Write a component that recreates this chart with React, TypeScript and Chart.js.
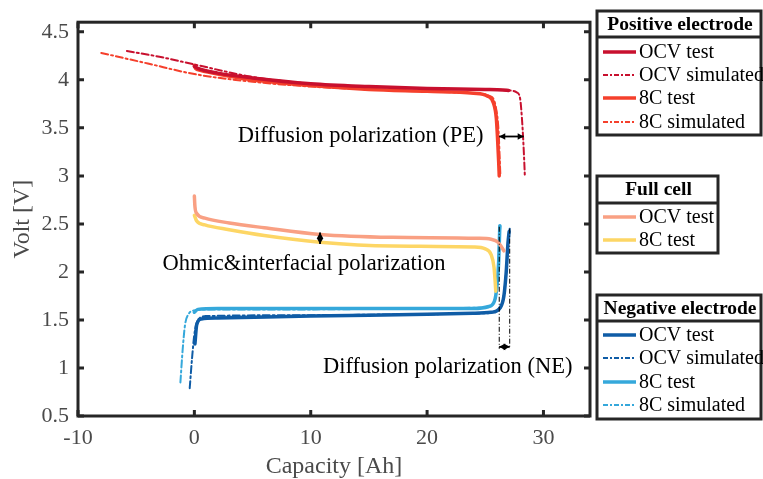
import React, { useEffect, useRef } from "react";
import { Chart, registerables } from "chart.js";

Chart.register(...registerables);

// ---------- axis ticks ----------
const xTicks = [-10, 0, 10, 20, 30];
const yTicks = [0.5, 1, 1.5, 2, 2.5, 3, 3.5, 4, 4.5];

// ---------- Positive electrode ----------
const peOcvTestCap = [0, 0.3, 2, 5, 10, 15, 20, 25, 26.5, 27];
const peOcvTestV = [4.14, 4.12, 4.07, 4.02, 3.96, 3.93, 3.91, 3.9, 3.895, 3.89];

const peOcvSimCap = [-5.8, -3, 0, 5, 10, 15, 20, 25, 27, 27.7, 28.0, 28.15, 28.25, 28.35, 28.4];
const peOcvSimV = [4.3, 4.24, 4.16, 4.03, 3.96, 3.93, 3.91, 3.9, 3.89, 3.87, 3.8, 3.6, 3.4, 3.15, 3.0];

const pe8cTestCap = [0, 0.1, 0.5, 2, 5, 10, 15, 20, 24, 25.2, 25.7, 25.95, 26.05, 26.15, 26.2];
const pe8cTestV = [4.15, 4.12, 4.1, 4.06, 4.0, 3.94, 3.9, 3.88, 3.86, 3.83, 3.76, 3.6, 3.4, 3.15, 3.0];

const pe8cSimCap = [-8, -4, 0, 5, 10, 15, 20, 24, 25.4, 25.9, 26.15, 26.25, 26.3];
const pe8cSimV = [4.28, 4.17, 4.06, 3.98, 3.93, 3.9, 3.88, 3.86, 3.83, 3.72, 3.45, 3.15, 3.0];

// ---------- Full cell ----------
const fcOcvTestCap = [0, 0.05, 0.2, 0.9, 3, 6, 10.8, 17, 24.3, 25.5, 26.1, 26.6];
const fcOcvTestV = [2.79, 2.68, 2.61, 2.56, 2.51, 2.46, 2.39, 2.36, 2.35, 2.34, 2.31, 2.22];

const fc8cTestCap = [0, 0.2, 0.9, 3, 6, 10.8, 17, 24, 25, 25.5, 25.75, 25.85, 25.9];
const fc8cTestV = [2.59, 2.53, 2.49, 2.44, 2.38, 2.31, 2.27, 2.26, 2.24, 2.18, 2.05, 1.9, 1.8];

// ---------- Negative electrode ----------
const neOcvTestCap = [0.05, 0.2, 0.6, 2, 10, 20, 24, 25.5, 26.3, 26.6, 26.8, 26.95, 27.05];
const neOcvTestV = [1.25, 1.45, 1.51, 1.52, 1.54, 1.56, 1.57, 1.58, 1.63, 1.75, 2.0, 2.3, 2.42];

const neOcvSimCap = [-0.4, -0.2, 0, 0.3, 1, 10, 20, 25, 26, 26.5, 26.8, 27.0, 27.1];
const neOcvSimV = [0.79, 1.1, 1.35, 1.5, 1.54, 1.55, 1.56, 1.57, 1.6, 1.7, 2.0, 2.35, 2.45];

const ne8cTestCap = [0, 0.3, 2, 10, 20, 24, 25.3, 25.8, 26.0, 26.15, 26.25];
const ne8cTestV = [1.58, 1.61, 1.62, 1.62, 1.62, 1.62, 1.64, 1.7, 1.85, 2.1, 2.48];

const ne8cSimCap = [-1.2, -1.0, -0.8, -0.5, 0, 1, 10, 20, 25, 25.8, 26.1, 26.25, 26.3];
const ne8cSimV = [0.85, 1.2, 1.45, 1.56, 1.6, 1.61, 1.61, 1.62, 1.63, 1.7, 2.0, 2.4, 2.48];

// ---------- annotations (data coordinates) ----------
const annoTexts = [
  { text: "Diffusion polarization (PE)", x: 24.85, y: 3.41, align: "right" },
  { text: "Ohmic&interfacial polarization", x: -2.74, y: 2.08, align: "left" },
  { text: "Diffusion polarization (NE)", x: 11.05, y: 1.01, align: "left" },
];
const annoArrows = [
  { x1: 26.2, y1: 3.41, x2: 28.3, y2: 3.41 },
  { x1: 10.8, y1: 2.41, x2: 10.8, y2: 2.29 },
  { x1: 26.2, y1: 1.22, x2: 27.1, y2: 1.22 },
];
const annoVLines = [
  { x: 26.2, y1: 2.47, y2: 1.2 },
  { x: 27.1, y1: 2.45, y2: 1.2 },
];

const colPeOcv = "#c8102e";
const colPe8c = "#f5402c";
const colFcOcv = "#f9a083";
const colFc8c = "#fdd665";
const colNeOcv = "#0f5ca6";
const colNe8c = "#35a8db";

const SIM_DASH = [7, 3, 2, 3];

const series = [
  { label: "FC OCV test", cap: fcOcvTestCap, v: fcOcvTestV, color: colFcOcv, dashed: false },
  { label: "FC 8C test", cap: fc8cTestCap, v: fc8cTestV, color: colFc8c, dashed: false },
  { label: "NE OCV test", cap: neOcvTestCap, v: neOcvTestV, color: colNeOcv, dashed: false },
  { label: "NE OCV simulated", cap: neOcvSimCap, v: neOcvSimV, color: colNeOcv, dashed: true },
  { label: "NE 8C test", cap: ne8cTestCap, v: ne8cTestV, color: colNe8c, dashed: false },
  { label: "NE 8C simulated", cap: ne8cSimCap, v: ne8cSimV, color: colNe8c, dashed: true },
  { label: "PE OCV test", cap: peOcvTestCap, v: peOcvTestV, color: colPeOcv, dashed: false },
  { label: "PE OCV simulated", cap: peOcvSimCap, v: peOcvSimV, color: colPeOcv, dashed: true },
  { label: "PE 8C test", cap: pe8cTestCap, v: pe8cTestV, color: colPe8c, dashed: false },
  { label: "PE 8C simulated", cap: pe8cSimCap, v: pe8cSimV, color: colPe8c, dashed: true },
];

const legendGroups = [
  {
    title: "Positive electrode", left: 597, right: 761, top: 11, sep: 37, bottom: 135, titleY: 25,
    rows: [
      { label: "OCV test", color: colPeOcv, dashed: false, y: 52 },
      { label: "OCV simulated", color: colPeOcv, dashed: true, y: 75 },
      { label: "8C test", color: colPe8c, dashed: false, y: 98 },
      { label: "8C simulated", color: colPe8c, dashed: true, y: 122 },
    ],
  },
  {
    title: "Full cell", left: 597, right: 718, top: 176, sep: 203, bottom: 253, titleY: 190,
    rows: [
      { label: "OCV test", color: colFcOcv, dashed: false, y: 217 },
      { label: "8C test", color: colFc8c, dashed: false, y: 240 },
    ],
  },
  {
    title: "Negative electrode", left: 597, right: 761, top: 295, sep: 321, bottom: 419, titleY: 309,
    rows: [
      { label: "OCV test", color: colNeOcv, dashed: false, y: 335 },
      { label: "OCV simulated", color: colNeOcv, dashed: true, y: 358 },
      { label: "8C test", color: colNe8c, dashed: false, y: 382 },
      { label: "8C simulated", color: colNe8c, dashed: true, y: 405 },
    ],
  },
];

const FRAME = "#262626";
const SERIF = "'Liberation Serif', 'Times New Roman', serif";

function drawHead(ctx: CanvasRenderingContext2D, x: number, y: number, ang: number, s: number) {
  ctx.beginPath();
  ctx.moveTo(x, y);
  ctx.lineTo(x - s * Math.cos(ang) + (s * 0.55) * Math.sin(ang), y - s * Math.sin(ang) - (s * 0.55) * Math.cos(ang));
  ctx.lineTo(x - s * Math.cos(ang) - (s * 0.55) * Math.sin(ang), y - s * Math.sin(ang) + (s * 0.55) * Math.cos(ang));
  ctx.closePath();
  ctx.fill();
}

const decorPlugin = {
  id: "decor",
  afterDatasetsDraw(chart: any) {
    const ctx: CanvasRenderingContext2D = chart.ctx;
    const xs = chart.scales.x;
    const ys = chart.scales.y;
    const a = chart.chartArea;
    ctx.save();

    // annotation vertical dash-dot lines
    ctx.strokeStyle = "#000";
    ctx.lineWidth = 1;
    ctx.setLineDash([5, 2, 1, 2]);
    annoVLines.forEach((l) => {
      const px = xs.getPixelForValue(l.x);
      ctx.beginPath();
      ctx.moveTo(px, ys.getPixelForValue(l.y1));
      ctx.lineTo(px, ys.getPixelForValue(l.y2));
      ctx.stroke();
    });
    ctx.setLineDash([]);

    // arrows
    ctx.fillStyle = "#000";
    ctx.strokeStyle = "#000";
    ctx.lineWidth = 1.8;
    annoArrows.forEach((r) => {
      const x1 = xs.getPixelForValue(r.x1), y1 = ys.getPixelForValue(r.y1);
      const x2 = xs.getPixelForValue(r.x2), y2 = ys.getPixelForValue(r.y2);
      ctx.beginPath();
      ctx.moveTo(x1, y1);
      ctx.lineTo(x2, y2);
      ctx.stroke();
      const ang = Math.atan2(y2 - y1, x2 - x1);
      drawHead(ctx, x2, y2, ang, 6);
      drawHead(ctx, x1, y1, ang + Math.PI, 6);
    });

    // annotation texts
    ctx.font = `22.5px ${SERIF}`;
    ctx.fillStyle = "#000";
    ctx.textBaseline = "middle";
    annoTexts.forEach((t) => {
      ctx.textAlign = t.align as CanvasTextAlign;
      ctx.fillText(t.text, xs.getPixelForValue(t.x), ys.getPixelForValue(t.y));
    });

    // frame
    ctx.strokeStyle = FRAME;
    ctx.lineWidth = 3;
    ctx.strokeRect(a.left, a.top, a.right - a.left, a.bottom - a.top);
    // inward ticks
    const tl = 6;
    xTicks.forEach((v) => {
      const px = xs.getPixelForValue(v);
      ctx.beginPath();
      ctx.moveTo(px, a.bottom);
      ctx.lineTo(px, a.bottom - tl);
      ctx.moveTo(px, a.top);
      ctx.lineTo(px, a.top + tl);
      ctx.stroke();
    });
    yTicks.forEach((v) => {
      const py = ys.getPixelForValue(v);
      ctx.beginPath();
      ctx.moveTo(a.left, py);
      ctx.lineTo(a.left + tl, py);
      ctx.moveTo(a.right, py);
      ctx.lineTo(a.right - tl, py);
      ctx.stroke();
    });

    // legends
    legendGroups.forEach((g) => {
      ctx.fillStyle = "#fff";
      ctx.fillRect(g.left, g.top, g.right - g.left, g.bottom - g.top);
      ctx.strokeStyle = FRAME;
      ctx.lineWidth = 3;
      ctx.setLineDash([]);
      ctx.strokeRect(g.left, g.top, g.right - g.left, g.bottom - g.top);
      ctx.beginPath();
      ctx.moveTo(g.left, g.sep);
      ctx.lineTo(g.right, g.sep);
      ctx.stroke();
      ctx.fillStyle = "#000";
      ctx.font = `bold 19.5px ${SERIF}`;
      ctx.textAlign = "center";
      ctx.textBaseline = "middle";
      ctx.fillText(g.title, (g.left + g.right) / 2 + 1, g.titleY);
      g.rows.forEach((r) => {
        ctx.strokeStyle = r.color;
        ctx.lineWidth = r.dashed ? 2 : 3.5;
        ctx.setLineDash(r.dashed ? [5, 2, 2, 2] : []);
        ctx.beginPath();
        ctx.moveTo(603, r.y);
        ctx.lineTo(636, r.y);
        ctx.stroke();
        ctx.setLineDash([]);
        ctx.fillStyle = "#000";
        ctx.font = `20px ${SERIF}`;
        ctx.textAlign = "left";
        ctx.fillText(r.label, 639, r.y + 1);
      });
    });

    ctx.restore();
  },
};

export default function App() {
  const ref = useRef<HTMLCanvasElement>(null);
  useEffect(() => {
    if (!ref.current) return;
    const datasets = series.map((s) => ({
      label: s.label,
      data: s.cap.map((c, i) => ({ x: c, y: s.v[i] })),
      borderColor: s.color,
      backgroundColor: s.color,
      borderWidth: s.dashed ? 2 : 3.5,
      borderDash: s.dashed ? SIM_DASH : [],
      borderCapStyle: "round",
      borderJoinStyle: "round",
      pointRadius: 0,
      fill: false,
      cubicInterpolationMode: "monotone",
      showLine: true,
    }));
    const chart = new Chart(ref.current, {
      type: "scatter",
      data: { datasets },
      options: {
        animation: false,
        responsive: false,
        devicePixelRatio: 1,
        layout: { padding: { left: 0, right: 173, top: 12, bottom: 0 } },
        plugins: { legend: { display: false }, tooltip: { enabled: false } },
        scales: {
          x: {
            type: "linear",
            min: -10,
            max: 34,
            afterBuildTicks: (s: any) => {
              s.ticks = xTicks.map((value) => ({ value }));
            },
            afterFit: (s: any) => {
              s.height = 63;
            },
            grid: { display: false, drawTicks: false },
            border: { display: false },
            ticks: {
              padding: 9,
              color: "#4a4a4a",
              font: { family: SERIF, size: 22 },
              maxRotation: 0,
              callback: (v: any) => String(v),
            },
            title: {
              display: true,
              text: "Capacity [Ah]",
              color: "#4a4a4a",
              font: { family: SERIF, size: 24, lineHeight: 1 },
              padding: { top: 0, bottom: 0 },
            },
          },
          y: {
            type: "linear",
            min: 0.5,
            max: 4.6,
            afterBuildTicks: (s: any) => {
              s.ticks = yTicks.map((value) => ({ value }));
            },
            afterFit: (s: any) => {
              s.width = 78;
            },
            grid: { display: false, drawTicks: false },
            border: { display: false },
            ticks: {
              padding: 9,
              color: "#4a4a4a",
              font: { family: SERIF, size: 22 },
              callback: (v: any) => String(v),
            },
            title: {
              display: true,
              text: "Volt [V]",
              color: "#4a4a4a",
              font: { family: SERIF, size: 24, lineHeight: 1 },
              padding: { top: 11, bottom: 0 },
            },
          },
        },
      },
      plugins: [decorPlugin],
    } as any);
    return () => chart.destroy();
  }, []);
  return (
    <div style={{ position: "fixed", left: 0, top: 0, width: 763, height: 479, background: "#fff" }}>
      <canvas ref={ref} width={763} height={479} style={{ display: "block", width: 763, height: 479 }} />
    </div>
  );
}
